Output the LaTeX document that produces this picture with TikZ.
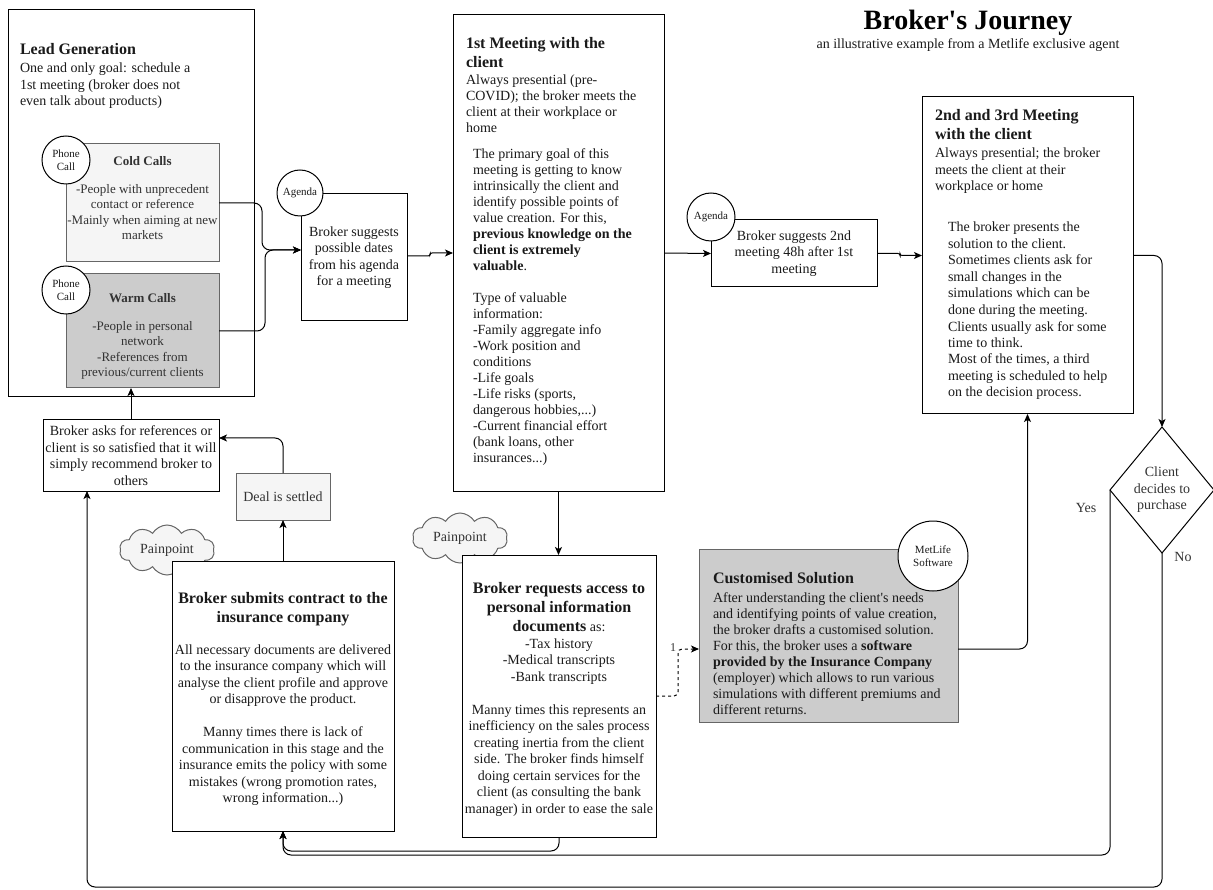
\documentclass[tikz,border=0pt]{standalone}
\usepackage{fontspec}
\setmainfont{Liberation Serif}[Ligatures=TeXOff]
\usetikzlibrary{arrows.meta,shapes.geometric,shapes.symbols}
\definecolor{txtc}{HTML}{1A1A1A}
\definecolor{greyline}{HTML}{666666}
\definecolor{lightfill}{HTML}{F5F5F5}
\definecolor{midfill}{HTML}{CCCCCC}
\definecolor{graytxt}{HTML}{333333}
\newcommand{\setfs}[2]{\fontsize{#1}{#2}\selectfont}
\begin{document}
% multi-line text nodes are placed by the baseline of their last line
\begin{tikzpicture}[x=1pt,y=-1pt,
  every node/.style={inner sep=0pt, outer sep=0pt, text=txtc},
  box/.style={draw=black, line width=1pt, fill=white, rectangle, anchor=north west},
  softbox/.style={draw=greyline, line width=1pt, rectangle, anchor=north west},
  badge/.style={circle, draw=black, line width=1pt, fill=white, align=center, font=\setfs{11}{13}},
  body/.style={font=\setfs{14}{16.5}},
  head/.style={font=\setfs{16}{19}\bfseries},
  small/.style={font=\setfs{13}{15.6}, text=graytxt},
  conn/.style={draw=black, line width=1pt, rounded corners=8pt, -{Stealth[length=8pt,width=7pt,inset=2pt]}},
  painpoint/.style={cloud, cloud puffs=10, cloud puff arc=120, aspect=2, draw=greyline, fill=lightfill, line width=1pt, minimum width=95pt, minimum height=50pt, font=\setfs{14}{16}, text=graytxt},
]
\useasboundingbox (0,0) rectangle (1213,890);

% title
\node[anchor=base, font=\setfs{28}{32}\bfseries, text=black] (title) at (968,30) {Broker's Journey};
\node[anchor=base, font=\setfs{14}{16}] (subtitle) at (968,49) {an illustrative example from a Metlife exclusive agent};

% lead generation
\node[box, minimum width=246, minimum height=387] (lead) at (8,10) {};
\node[head, anchor=base west] (leadhead) at (20,55) {Lead Generation};
\node[body, anchor=base west, align=left] (leadtext) at (20,106) {One and only goal: schedule a\\1st meeting (broker does not\\even talk about products)};

\node[softbox, fill=lightfill, minimum width=153, minimum height=118] (cold) at (66,144) {};
\node[small, anchor=base, font=\setfs{13}{15.6}\bfseries] (coldhead) at (142.5,166) {Cold Calls};
\node[small, anchor=base, align=center] (coldtext) at (142.5,240) {-People with unprecedent\\contact or reference\\-Mainly when aiming at new\\markets};
\node[badge, minimum size=48] (phone1) at (66,160) {Phone\\Call};

\node[softbox, fill=midfill, minimum width=153, minimum height=114] (warm) at (66,274) {};
\node[small, anchor=base, font=\setfs{13}{15.6}\bfseries] (warmhead) at (142.5,303) {Warm Calls};
\node[small, anchor=base, align=center] (warmtext) at (142.5,377) {-People in personal\\network\\-References from\\previous/current clients};
\node[badge, minimum size=48] (phone2) at (66,290) {Phone\\Call};

% scheduling the first meeting
\node[box, minimum width=106, minimum height=127, align=center, body] (agbox) at (301,194) {Broker suggests\\possible dates\\from his agenda\\for a meeting};
\node[badge, minimum size=46] (agcirc) at (300,193) {Agenda};

% first meeting
\node[box, minimum width=211, minimum height=476] (m1) at (453,15) {};
\node[head, anchor=base west, align=left] (m1head) at (466,68) {1st Meeting with the\\client};
\node[anchor=base west, align=left, font=\setfs{14}{16}] (m1text) at (466,133) {Always presential (pre-\\COVID); the broker meets the\\client at their workplace or\\home};
\node[anchor=base west, align=left, font=\setfs{14}{16}] (m1para) at (473,462) {The primary goal of this\\meeting is getting to know\\intrinsically the client and\\identify possible points of\\value creation. For this,\\\textbf{previous knowledge on the}\\\textbf{client is extremely}\\\textbf{valuable}.\\[16pt]Type of valuable\\information:\\-Family aggregate info\\-Work position and\\conditions\\-Life goals\\-Life risks (sports,\\dangerous hobbies,...)\\-Current financial effort\\(bank loans, other\\insurances...)};

% scheduling the second meeting
\node[box, minimum width=166, minimum height=67, align=center, body] (ag2) at (711,220) {Broker suggests 2nd\\meeting 48h after 1st\\meeting};
\node[badge, minimum size=48] (ag2circ) at (711,217) {Agenda};

% second and third meeting
\node[box, minimum width=211, minimum height=317] (m2) at (922,97) {};
\node[head, anchor=base west, align=left] (m2head) at (935,140) {2nd and 3rd Meeting\\with the client};
\node[body, anchor=base west, align=left] (m2text) at (935,191) {Always presential; the broker\\meets the client at their\\workplace or home};
\node[body, anchor=base west, align=left] (m2para) at (948,397) {The broker presents the\\solution to the client.\\Sometimes clients ask for\\small changes in the\\simulations which can be\\done during the meeting.\\Clients usually ask for some\\time to think.\\Most of the times, a third\\meeting is scheduled to help\\on the decision process.};

% decision
\node[diamond, draw=black, line width=1pt, fill=white, minimum width=104, minimum height=126, align=center, body, text=graytxt] (dia) at (1162,490) {Client\\decides to\\purchase};

% references
\node[box, minimum width=176, minimum height=71, align=center, body] (ask) at (43,420) {Broker asks for references or\\client is so satisfied that it will\\simply recommend broker to\\others};
\node[softbox, fill=lightfill, minimum width=94, minimum height=47, body, text=graytxt] (deal) at (236,473) {Deal is settled};

% pain points
\node[painpoint] (pp1) at (167,550) {Painpoint};
\node[painpoint] (pp2) at (460,538) {Painpoint};

% contract submission
\node[box, minimum width=222, minimum height=270] (sub) at (172,561) {};
\node[head, anchor=base, align=center] (subhead) at (283,622) {Broker submits contract to the\\insurance company};
\node[body, anchor=base, align=center] (subtext) at (283,802.5) {All necessary documents are delivered\\to the insurance company which will\\analyse the client profile and approve\\or disapprove the product.\\[16.5pt]Manny times there is lack of\\communication in this stage and the\\insurance emits the policy with some\\mistakes (wrong promotion rates,\\wrong information...)};

% document request
\node[box, minimum width=194, minimum height=282] (req) at (462,555) {};
\node[head, anchor=base, align=center] (reqhead) at (559,631) {Broker requests access to\\personal information\\documents\textmd{\setfs{14}{19} as:}};
\node[body, anchor=base, align=center] (reqtext) at (559,813) {-Tax history\\-Medical transcripts\\-Bank transcripts\\[16.5pt]Manny times this represents an\\inefficiency on the sales process\\creating inertia from the client\\side. The broker finds himself\\doing certain services for the\\client (as consulting the bank\\manager) in order to ease the sale};

% customised solution
\node[softbox, fill=midfill, minimum width=259, minimum height=173] (cust) at (699,549) {};
\node[head, anchor=base west] (custhead) at (713,583) {Customised Solution};
\node[anchor=base west, align=left, font=\setfs{14}{16}] (custtext) at (713,714) {After understanding the client's needs\\and identifying points of value creation,\\the broker drafts a customised solution.\\For this, the broker uses a \textbf{software}\\\textbf{provided by the Insurance Company}\\(employer) which allows to run various\\simulations with different premiums and\\different returns.};
\node[badge, minimum size=70] (metlife) at (933,556) {MetLife\\Software};

% connectors
\draw[conn] (cold.east) -| (262,250) -- (agbox.west |- 0,250);
\draw[conn] (warm.east) -| (265,250) -- (agbox.west |- 0,250);
\draw[conn, rounded corners=2pt] (agbox.east |- 0,256) -| (430,253) -- (m1.west |- 0,253);
\draw[conn] (m1.east) -- (ag2.west);
\draw[conn, rounded corners=2pt] (ag2.east) -| (900,255.5) -- (m2.west);
\draw[conn] (m2.east) -| (dia.north);
\draw[conn] (dia.west) |- (283,855) -- (sub.south);
\node[body, text=graytxt] (yes) at (1086,508) {Yes};
\draw[conn] (req.south) |- (283,851) -- (sub.south);
\draw[conn] (dia.south) |- (87,887) -- (87,0 |- ask.south);
\node[body, text=graytxt] (no) at (1183,557) {No};
\draw[conn] (ask.north) -- (ask.north |- warm.south);
\draw[conn] (deal.north) |- (ask.east |- 0,438);
\draw[conn] (sub.north) -- (deal.south);
\draw[conn] (m1.south) -- (m1.south |- req.north);
\draw[conn, dash pattern=on 3pt off 3pt, rounded corners=4pt] (req.east) -| (678,649) -- (cust.west |- 0,649);
\node[font=\setfs{12}{14}, text=graytxt] (one) at (673,648) {1};
\draw[conn] (cust.east |- 0,649) -| (m2.south);
\end{tikzpicture}
\end{document}
